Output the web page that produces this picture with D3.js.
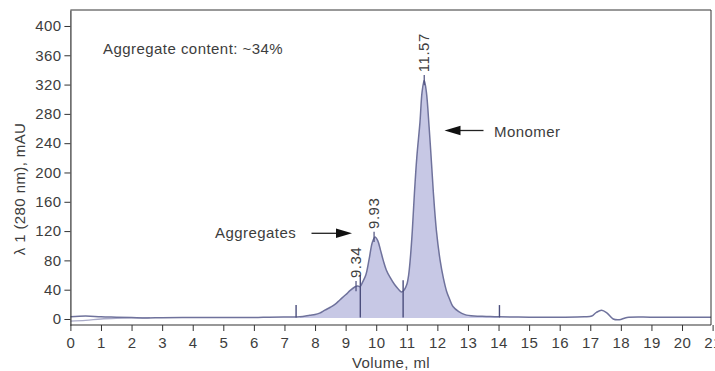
<!DOCTYPE html>
<html>
<head>
<meta charset="utf-8">
<script src="https://cdn.jsdelivr.net/npm/d3@7"></script>
<style>
  html, body { margin: 0; padding: 0; background: #fff; }
  svg { display: block; }
  text { font-family: "Liberation Sans", Arial, sans-serif; fill: #3d3d3d; }
</style>
</head>
<body>
<svg id="chart" width="715" height="371"></svg>
<script>
// ---- data ----
const volume = [0, 0.5, 1, 1.5, 2, 2.5, 3, 4, 5, 6, 6.5, 7, 7.5, 7.83, 8.0, 8.15, 8.32, 8.5, 8.65, 8.81, 9.0, 9.15, 9.31, 9.4, 9.47, 9.55, 9.66, 9.77, 9.87, 9.96, 10.05, 10.14, 10.23, 10.33, 10.45, 10.6, 10.72, 10.83, 10.92, 11.0, 11.06, 11.11, 11.18, 11.25, 11.33, 11.43, 11.5, 11.57, 11.64, 11.73, 11.8, 11.87, 11.97, 12.09, 12.2, 12.3, 12.4, 12.51, 12.7, 12.9, 13.2, 13.6, 14, 15, 16, 16.8, 17.05, 17.2, 17.37, 17.55, 17.75, 17.95, 18.2, 19, 20, 21];
const absorbance = [3, 4, 3, 2.5, 2, 1.5, 1.8, 2, 2.2, 2, 2.5, 2.8, 3, 5, 6, 8, 12, 16, 20, 26, 33, 39, 44, 45, 44, 50, 60, 82, 104, 112, 107, 94, 80, 67, 57, 47, 41, 37, 40, 47, 60, 80, 120, 172, 222, 268, 310, 326, 310, 262, 218, 172, 120, 80, 55, 38, 27, 17, 10, 6, 4, 3.5, 3, 2.5, 2.5, 3, 4, 9, 12, 8, 0, -1, 2, 2.5, 2.5, 2.5];
const volume2 = [0, 0.5, 1, 1.5, 2, 2.6];
const absorbance2 = [-3, -2, 0, 1, 1.5, 1.8];
const fractionVolumes = [7.38, 9.48, 10.88, 14.03];
const fractionTops = [19, 60, 53, 19];
const peakVolumes = [9.34, 9.93, 11.57];
const peakHeights = [45, 112, 326];
const peakLabels = ["9.34", "9.93", "11.57"];
const xTicks = d3.range(0, 22, 1);
const yTicks = [0, 40, 80, 120, 160, 200, 240, 280, 320, 360, 400];
const annotationText = "Aggregate content: ~34%";
const aggregatesText = "Aggregates";
const monomerText = "Monomer";
const xTitle = "Volume, ml";
const yTitle = "λ 1 (280 nm), mAU";

// ---- chart ----
const svg = d3.select("#chart");
const x = d3.scaleLinear().domain([0, 21]).range([70.4, 712.6]);
const y = d3.scaleLinear().domain([-8.2, 421.8]).range([325, 10]);
const curve = d3.curveCatmullRom.alpha(0.5);

const trace = volume.map((v, i) => ({ v, a: absorbance[i] }));
const trace2 = volume2.map((v, i) => ({ v, a: absorbance2[i] }));

svg.append("defs").append("clipPath").attr("id", "plot")
  .append("rect").attr("x", 70.4).attr("y", 10).attr("width", 640.6).attr("height", 315);

const plot = svg.append("g").attr("clip-path", "url(#plot)");

// fill between trace and baseline within integration range
const fillData = trace.filter(d => d.v >= fractionVolumes[0] && d.v <= fractionVolumes[3]);
plot.append("path")
  .datum(fillData)
  .attr("fill", "#c7c8e5")
  .attr("d", d3.area().x(d => x(d.v)).y0(y(1.5)).y1(d => y(d.a)).curve(curve));

// secondary faint trace
plot.append("path")
  .datum(trace2)
  .attr("fill", "none")
  .attr("stroke", "#a9aac8")
  .attr("stroke-width", 1.3)
  .attr("d", d3.line().x(d => x(d.v)).y(d => y(d.a)).curve(curve));

// main trace
plot.append("path")
  .datum(trace)
  .attr("fill", "none")
  .attr("stroke", "#6f729c")
  .attr("stroke-width", 1.5)
  .attr("d", d3.line().x(d => x(d.v)).y(d => y(d.a)).curve(curve));

// fraction markers
plot.selectAll(".frac").data(fractionVolumes).enter().append("line")
  .attr("x1", d => x(d)).attr("x2", d => x(d))
  .attr("y1", y(2)).attr("y2", (d, i) => y(fractionTops[i]))
  .attr("stroke", "#4b4e7c").attr("stroke-width", 1.4);

// peak ticks
plot.selectAll(".pk").data(peakVolumes).enter().append("line")
  .attr("x1", d => x(d)).attr("x2", d => x(d))
  .attr("y1", (d, i) => y(peakHeights[i] - 7)).attr("y2", (d, i) => y(peakHeights[i] + 7))
  .attr("stroke", "#4b4e7c").attr("stroke-width", 1.2);

// peak labels
svg.selectAll(".pl").data(peakVolumes).enter().append("text")
  .attr("transform", (d, i) => `translate(${x(d) + 5},${y(peakHeights[i]) - 8}) rotate(-90)`)
  .attr("font-size", 15).attr("letter-spacing", 0.5)
  .text((d, i) => peakLabels[i]);

// frame
svg.append("path")
  .attr("d", `M${x(0)},10H711V325`)
  .attr("fill", "none").attr("stroke", "#333").attr("stroke-width", 1);

// axes
const xAxis = svg.append("g").attr("transform", "translate(0,325)")
  .call(d3.axisBottom(x).tickValues(xTicks).tickSize(6).tickSizeOuter(0).tickPadding(6.3));
const yAxis = svg.append("g").attr("transform", `translate(${x(0)},0)`)
  .call(d3.axisLeft(y).tickValues(yTicks).tickSize(6).tickSizeOuter(0).tickPadding(3));
[xAxis, yAxis].forEach(g => {
  g.attr("font-family", null).attr("font-size", null);
  g.select(".domain").attr("stroke", "#333").attr("stroke-width", 1.2);
  g.selectAll(".tick line").attr("stroke", "#333");
  g.selectAll(".tick text").attr("font-size", 15).attr("letter-spacing", 0.4).style("fill", "#3d3d3d");
});
xAxis.select(".domain").attr("d", `M${x(0)},0H711`);

// titles
svg.append("text").attr("x", 391).attr("y", 368).attr("text-anchor", "middle")
  .attr("font-size", 15).attr("letter-spacing", 0.4).text(xTitle);
svg.append("text").attr("transform", "translate(25,189) rotate(-90)").attr("text-anchor", "middle")
  .attr("font-size", 15).attr("letter-spacing", 0.4).text(yTitle);

// annotations
svg.append("text").attr("x", 103).attr("y", 54)
  .attr("font-size", 15).attr("letter-spacing", 0.45).text(annotationText);
svg.append("text").attr("x", 215).attr("y", 237.5)
  .attr("font-size", 15).attr("letter-spacing", 0.45).text(aggregatesText);
svg.append("text").attr("x", 494).attr("y", 137)
  .attr("font-size", 15).attr("letter-spacing", 0.45).text(monomerText);

function arrow(x1, x2, yy) {
  const dir = Math.sign(x2 - x1);
  svg.append("line").attr("x1", x1).attr("x2", x2 - dir * 14).attr("y1", yy).attr("y2", yy)
    .attr("stroke", "#222").attr("stroke-width", 1.3);
  svg.append("path")
    .attr("d", `M${x2},${yy}L${x2 - dir * 16},${yy - 4.8}L${x2 - dir * 16},${yy + 4.8}Z`)
    .attr("fill", "#111");
}
arrow(311.5, 352, 233.3);
arrow(483.5, 444.5, 130.5);
</script>
</body>
</html>
